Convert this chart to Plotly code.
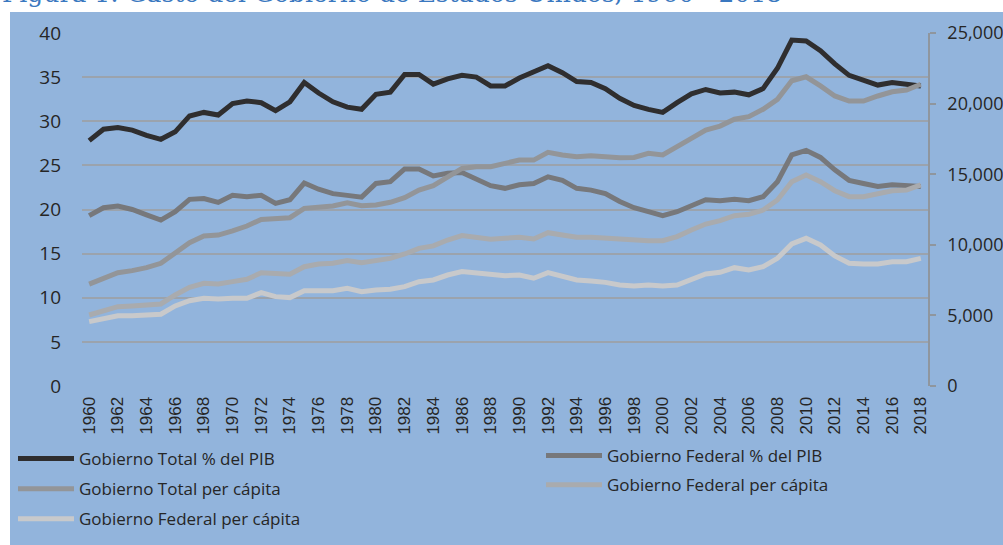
import plotly.graph_objects as go

years = list(range(1960, 2019))

# % del PIB (left axis)
total_pib = [
    27.8, 29.1, 29.3, 29.0, 28.4, 27.95, 28.8, 30.6, 31.0, 30.7,
    32.0, 32.3, 32.1, 31.2, 32.2, 34.4, 33.2, 32.2, 31.6, 31.35,
    33.05, 33.3, 35.3, 35.3, 34.2, 34.8, 35.2, 35.0, 34.0, 34.0,
    34.9, 35.6, 36.3, 35.5, 34.5, 34.4, 33.7, 32.6, 31.8, 31.35,
    31.0, 32.1, 33.1, 33.6, 33.2, 33.3, 33.0, 33.7, 36.0, 39.2,
    39.1, 38.0, 36.5, 35.2, 34.6, 34.1, 34.4, 34.2, 34.0,
]
federal_pib = [
    19.3, 20.2, 20.4, 20.0, 19.4, 18.8, 19.75, 21.15, 21.25, 20.8,
    21.6, 21.45, 21.6, 20.7, 21.1, 23.0, 22.3, 21.8, 21.6, 21.4,
    22.95, 23.15, 24.6, 24.6, 23.8, 24.1, 24.2, 23.5, 22.7, 22.4,
    22.8, 22.95, 23.7, 23.3, 22.4, 22.2, 21.8, 20.9, 20.2, 19.75,
    19.3, 19.75, 20.5, 21.1, 21.0, 21.15, 21.0, 21.45, 23.15, 26.2,
    26.7, 25.9, 24.5, 23.3, 22.95, 22.6, 22.8, 22.7, 22.6,
]

# per cápita (right axis)
total_pc = [
    7220, 7620, 8020, 8170, 8380, 8690, 9400, 10150, 10620, 10690,
    10980, 11330, 11800, 11870, 11920, 12580, 12700, 12750, 12980, 12770,
    12820, 13010, 13340, 13880, 14190, 14820, 15410, 15530, 15530, 15770,
    16000, 16000, 16550, 16360, 16240, 16310, 16240, 16170, 16190, 16480,
    16360, 16900, 17540, 18130, 18410, 18890, 19070, 19600, 20300, 21620,
    21900, 21250, 20540, 20180, 20180, 20540, 20840, 20960, 21370,
]
federal_pc = [
    5030, 5330, 5620, 5670, 5740, 5810, 6450, 6990, 7270, 7220,
    7390, 7560, 8020, 7980, 7910, 8450, 8640, 8690, 8880, 8730,
    8850, 9040, 9350, 9750, 9920, 10340, 10650, 10530, 10390, 10460,
    10530, 10410, 10860, 10690, 10530, 10530, 10460, 10340, 10290, 10290,
    10290, 10580, 11050, 11470, 11710, 12060, 12160, 12460, 13170, 14470,
    14940, 14470, 13830, 13410, 13410, 13640, 13830, 13880, 14240,
]
federal_pc_2 = [
    4560, 4790, 4980, 4980, 5030, 5080, 5670, 6040, 6210, 6160,
    6210, 6210, 6610, 6330, 6260, 6750, 6750, 6750, 6920, 6680,
    6800, 6850, 7040, 7390, 7510, 7860, 8100, 7980, 7860, 7810,
    7860, 7630, 8030, 7790, 7510, 7440, 7340, 7150, 7080, 7150,
    7080, 7150, 7510, 7930, 8050, 8380, 8220, 8450, 9040, 10060,
    10460, 9990, 9210, 8690, 8640, 8640, 8800, 8800, 9040,
]

left_ticks = [0, 5, 10, 15, 20, 25, 30, 35, 40]
right_ticks = [0, 5000, 10000, 15000, 20000, 25000]
year_ticks = list(range(1960, 2019, 2))

BG = "#92b4dc"
GRID = "#9ba3ad"
TXT = "#262626"
FONT = "Open Sans"

fig = go.Figure()

series = [
    ("Gobierno Total % del PIB", total_pib, "y", "#2f2e2f", "legend", "a"),
    ("Gobierno Total per cápita", total_pc, "y2", "#939598", "legend", "b"),
    ("Gobierno Federal per cápita", federal_pc_2, "y2", "#c8c9cb", "legend", "c"),
    ("Gobierno Federal % del PIB", federal_pib, "y", "#77787b", "legend2", "d"),
    ("Gobierno Federal per cápita", federal_pc, "y2", "#a9abae", "legend2", "e"),
]
# drawing order: back to front like the source
draw_order = [2, 4, 1, 3, 0]
for i in draw_order:
    name, vals, yax, color, leg, grp = series[i]
    fig.add_trace(go.Scatter(
        x=years, y=vals, name=name, yaxis=yax, mode="lines",
        line=dict(color=color, width=5),
        legend=leg, legendgroup=grp, legendrank=i,
    ))

fig.update_layout(
    width=1003, height=545,
    paper_bgcolor="white",
    plot_bgcolor="rgba(0,0,0,0)",
    margin=dict(l=82, r=75, t=33, b=159, autoexpand=False),
    font=dict(family=FONT, color=TXT),
    xaxis=dict(
        range=[1959.5, 2018.5], tickvals=year_ticks, tickangle=-90,
        showgrid=False, zeroline=False, showline=False,
        tickfont=dict(family="Liberation Sans", size=17, color=TXT),
        ticks="outside", ticklen=3, tickcolor="rgba(0,0,0,0)",
    ),
    yaxis=dict(
        range=[0, 40], tickvals=left_ticks,
        showgrid=True, gridcolor=GRID, gridwidth=1.5,
        zeroline=False, showline=False,
        tickfont=dict(size=19, color=TXT),
        ticklabelstandoff=20,
    ),
    yaxis2=dict(
        range=[0, 25000], tickvals=right_ticks, tickformat=",",
        overlaying="y", side="right", showgrid=False, zeroline=False,
        showline=True, linecolor="#8f969e", linewidth=1.5,
        ticks="outside", ticklen=6, tickcolor="#8f969e", tickwidth=1.5,
        tickfont=dict(size=18, color=TXT),
        ticklabelstandoff=8,
    ),
    legend=dict(
        x=(13 - 82) / 846, y=(386 - 441) / 353, xanchor="left", yanchor="top",
        orientation="v", bgcolor="rgba(0,0,0,0)", itemwidth=56,
        font=dict(size=17, color=TXT), tracegroupgap=5, traceorder="grouped",
    ),
    legend2=dict(
        x=(541 - 82) / 846, y=(386 - 438) / 353, xanchor="left", yanchor="top",
        orientation="v", bgcolor="rgba(0,0,0,0)", itemwidth=56,
        font=dict(size=17, color=TXT), tracegroupgap=4, traceorder="grouped",
    ),
    shapes=[dict(
        type="rect", xref="paper", yref="paper", layer="below",
        x0=(10 - 82) / 846, x1=1.2, y0=-0.6, y1=1 + (33 - 12) / 353,
        fillcolor=BG, line=dict(width=0),
    )],
    annotations=[dict(
        text="Figura 1: Gasto del Gobierno de Estados Unidos, 1960 - 2018",
        xref="paper", yref="paper", x=(0 - 82) / 846, y=1 + (33 + 6) / 353,
        xanchor="left", yanchor="middle", showarrow=False,
        font=dict(family="DejaVu Serif", size=25, color="#3a78c0"),
    )],
)

# drop the browser's default 8px body margin so the figure sits at (0, 0)
fig.write_html(
    "out.html",
    config={"displayModeBar": False},
    post_script="document.body.style.margin = '0px';",
)
